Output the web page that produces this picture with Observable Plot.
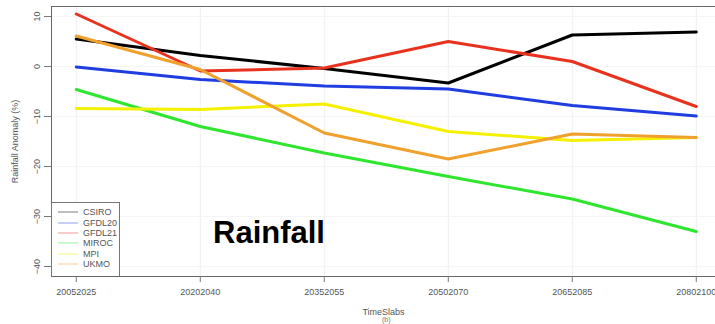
<!DOCTYPE html>
<html>
<head>
<meta charset="utf-8">
<script src="https://cdn.jsdelivr.net/npm/d3@7"></script>
<script src="https://cdn.jsdelivr.net/npm/@observablehq/plot@0.6"></script>
<style>
  html, body { margin: 0; padding: 0; background: #fff; }
  #wrap { position: relative; width: 715px; height: 324px; overflow: hidden; font-family: "Liberation Sans", Arial, sans-serif; }
  #legend { position: absolute; left: 51px; top: 202px; width: 69px; height: 74px; border: 1px solid #777; border-bottom: none; box-sizing: border-box; background: #fff; padding-top: 4px; }
  .lg { display: flex; align-items: center; height: 10.4px; font-size: 9px; color: #555; }
  .lg span.sw { display: inline-block; width: 20px; height: 2px; margin-left: 6px; margin-right: 5px; opacity: 0.25; }
  #title { position: absolute; left: 213px; top: 215px; font-size: 31px; font-weight: bold; color: #000; }
  #sub { position: absolute; left: 382px; top: 316px; font-size: 7px; line-height: 8px; color: #777; }
</style>
</head>
<body>
<div id="wrap"></div>
<script>
const periods = ["20052025", "20202040", "20352055", "20502070", "20652085", "20802100"];
const models = ["CSIRO", "GFDL20", "GFDL21", "MIROC", "MPI", "UKMO"];
const colors = ["#000000", "#1f3de0", "#e8321e", "#2fe62f", "#f4f000", "#f0a02c"];
const CSIRO  = [5.5, 2.2, -0.4, -3.3, 6.3, 6.9];
const GFDL20 = [-0.1, -2.6, -3.9, -4.5, -7.8, -9.9];
const GFDL21 = [10.5, -0.9, -0.3, 5.0, 1.0, -8.0];
const MIROC  = [-4.6, -12.0, -17.3, -22.0, -26.5, -33.0];
const MPI    = [-8.4, -8.6, -7.5, -13.0, -14.8, -14.2];
const UKMO   = [6.1, -0.6, -13.3, -18.5, -13.5, -14.2];
const yTicks = [-40, -30, -20, -10, 0, 10];

const seriesValues = [CSIRO, GFDL20, GFDL21, MIROC, MPI, UKMO];
const data = [];
models.forEach((m, k) => seriesValues[k].forEach((v, i) => data.push({model: m, idx: i + 1, value: v})));

const chart = Plot.plot({
  width: 715,
  height: 324,
  marginLeft: 51,
  marginRight: 0,
  marginTop: 6,
  marginBottom: 48,
  style: {fontFamily: "'Liberation Sans', Arial, sans-serif", fontSize: "9px", color: "#555", background: "#fff"},
  x: {domain: [0.8, 6.155]},
  y: {domain: [-42, 12]},
  color: {domain: models, range: colors},
  marks: [
    Plot.gridX([1, 2, 3, 4, 5, 6], {stroke: "#efefef", strokeOpacity: 1}),
    Plot.gridY(yTicks, {stroke: "#f5f5f5", strokeOpacity: 1}),
    Plot.line(data, {x: "idx", y: "value", z: "model", stroke: "model", strokeWidth: 3, curve: "linear"}),
    Plot.frame({stroke: "#666", strokeWidth: 1}),
    Plot.axisX([1, 2, 3, 4, 5, 6], {
      tickFormat: d => periods[d - 1], tickSize: 6, tickPadding: 6, stroke: "#777",
      label: "TimeSlabs", labelArrow: "none", labelAnchor: "center", labelOffset: 38, fontSize: 9
    }),
    Plot.axisY(yTicks, {
      tickSize: 7, tickPadding: 5, tickRotate: -90, stroke: "#777", fontSize: 9,
      label: "Rainfall Anomaly (%)", labelArrow: "none", labelAnchor: "center", labelOffset: 40
    })
  ]
});
const wrap = document.getElementById("wrap");
wrap.appendChild(chart);

const legend = document.createElement("div");
legend.id = "legend";
models.forEach((m, k) => {
  const row = document.createElement("div");
  row.className = "lg";
  const sw = document.createElement("span");
  sw.className = "sw";
  sw.style.background = colors[k];
  row.appendChild(sw);
  row.appendChild(document.createTextNode(m));
  legend.appendChild(row);
});
wrap.appendChild(legend);

const title = document.createElement("div");
title.id = "title";
title.textContent = "Rainfall";
wrap.appendChild(title);

const sub = document.createElement("div");
sub.id = "sub";
sub.textContent = "(b)";
wrap.appendChild(sub);
</script>
</body>
</html>
